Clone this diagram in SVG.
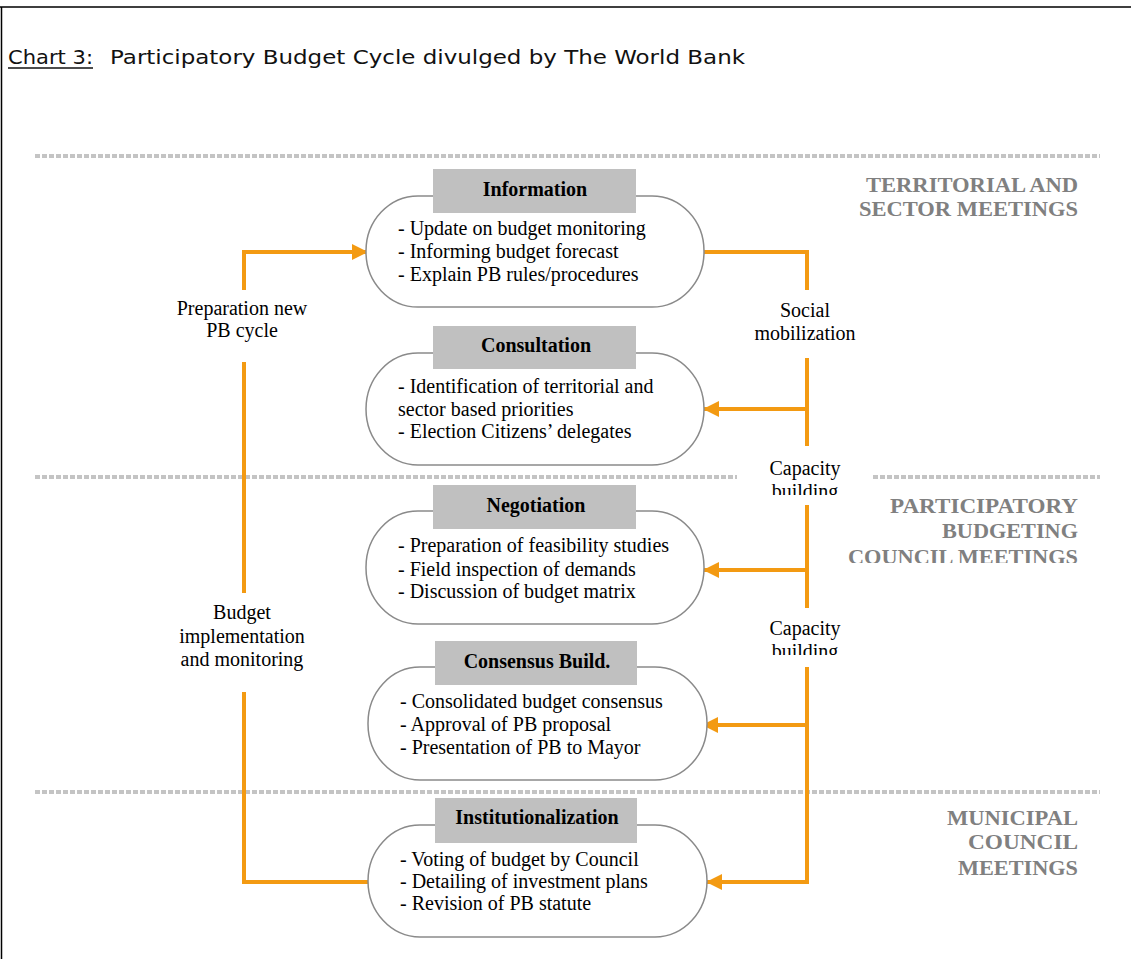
<svg xmlns="http://www.w3.org/2000/svg" width="1131" height="959" viewBox="0 0 1131 959">
  <style>
    .frame { fill: none; stroke: #000; stroke-width: 1.5; }
    .title { font-family: "DejaVu Sans", Verdana, sans-serif; font-size: 20px; fill: #111; }
    .dots { stroke: #c4c4c4; stroke-width: 4; stroke-dasharray: 5 2; fill: none; }
    .pill { fill: #fff; stroke: #8a8a8a; stroke-width: 1.5; }
    .head { fill: #c0c0c0; }
    .htxt { font-family: "Liberation Serif", "Times New Roman", serif; font-size: 20px; font-weight: bold; fill: #000; text-anchor: middle; }
    .btxt { font-family: "Liberation Serif", "Times New Roman", serif; font-size: 20px; fill: #000; }
    .lbl { font-family: "Liberation Serif", "Times New Roman", serif; font-size: 20px; fill: #000; text-anchor: middle; }
    .zone { font-family: "Liberation Serif", "Times New Roman", serif; font-size: 21px; font-weight: bold; fill: #808080; text-anchor: end; }
    .conn { fill: none; stroke: #f39a12; stroke-width: 4; }
  </style>
  <defs>
    <marker id="arr" viewBox="0 0 16 16" refX="15" refY="8" markerWidth="16" markerHeight="16" markerUnits="userSpaceOnUse" orient="auto">
      <path d="M0,0 L16,8 L0,16 z" fill="#f39a12"/>
    </marker>
    <clipPath id="clipCap1"><rect x="740" y="440" width="140" height="55"/></clipPath>
    <clipPath id="clipCap2"><rect x="740" y="600" width="140" height="55"/></clipPath>
    <clipPath id="clipZone"><rect x="820" y="480" width="300" height="83"/></clipPath>
  </defs>

  <rect width="1131" height="959" fill="#fff"/>
  <path class="frame" d="M0,7 H1131 M1.5,7 V959"/>

  <g id="title">
    <text class="title" x="8" y="64" textLength="85" lengthAdjust="spacingAndGlyphs">Chart 3:</text>
    <line x1="8" y1="68" x2="93" y2="68" stroke="#111" stroke-width="1.5"/>
    <text class="title" x="110" y="64" textLength="635" lengthAdjust="spacingAndGlyphs">Participatory Budget Cycle divulged by The World Bank</text>
  </g>

  <g id="separators">
    <line class="dots" x1="35" y1="156" x2="1100" y2="156"/>
    <line class="dots" x1="35" y1="477" x2="737" y2="477"/>
    <line class="dots" x1="873" y1="477" x2="1100" y2="477"/>
    <line class="dots" x1="35" y1="792" x2="1100" y2="792"/>
  </g>

  <g id="zone-territorial">
    <text class="zone" x="1078" y="192" textLength="212" lengthAdjust="spacingAndGlyphs">TERRITORIAL AND</text>
    <text class="zone" x="1078" y="216" textLength="219" lengthAdjust="spacingAndGlyphs">SECTOR MEETINGS</text>
  </g>
  <g id="zone-participatory">
    <text class="zone" x="1078" y="513" textLength="188" lengthAdjust="spacingAndGlyphs">PARTICIPATORY</text>
    <text class="zone" x="1078" y="538" textLength="136" lengthAdjust="spacingAndGlyphs">BUDGETING</text>
    <text class="zone" x="1078" y="564" textLength="230" lengthAdjust="spacingAndGlyphs" clip-path="url(#clipZone)">COUNCIL MEETINGS</text>
  </g>
  <g id="zone-municipal">
    <text class="zone" x="1078" y="825" textLength="131" lengthAdjust="spacingAndGlyphs">MUNICIPAL</text>
    <text class="zone" x="1078" y="849" textLength="110" lengthAdjust="spacingAndGlyphs">COUNCIL</text>
    <text class="zone" x="1078" y="875" textLength="120" lengthAdjust="spacingAndGlyphs">MEETINGS</text>
  </g>

  <g id="connectors">
    <path class="conn" d="M244,290 V252 H367" marker-end="url(#arr)"/>
    <path class="conn" d="M244,362 V593"/>
    <path class="conn" d="M244,692 V882 H370"/>
    <path class="conn" d="M704,252 H807 V290"/>
    <path class="conn" d="M807,358 V446"/>
    <path class="conn" d="M807,409 H704" marker-end="url(#arr)"/>
    <path class="conn" d="M807,505 V608"/>
    <path class="conn" d="M807,570 H704" marker-end="url(#arr)"/>
    <path class="conn" d="M807,667 V882 H707" marker-end="url(#arr)"/>
    <path class="conn" d="M807,725 H703" marker-end="url(#arr)"/>
  </g>

  <g id="connector-labels">
    <text class="lbl" x="242" y="315">Preparation new</text>
    <text class="lbl" x="242" y="337">PB cycle</text>
    <text class="lbl" x="242" y="619">Budget</text>
    <text class="lbl" x="242" y="643">implementation</text>
    <text class="lbl" x="242" y="666">and monitoring</text>
    <text class="lbl" x="805" y="317">Social</text>
    <text class="lbl" x="805" y="340">mobilization</text>
    <text class="lbl" x="805" y="475">Capacity</text>
    <text class="lbl" x="805" y="498" clip-path="url(#clipCap1)">building</text>
    <text class="lbl" x="805" y="635">Capacity</text>
    <text class="lbl" x="805" y="658" clip-path="url(#clipCap2)">building</text>
  </g>

  <g id="node-information">
    <rect class="pill" x="366" y="196" width="338" height="111" rx="52" ry="55"/>
    <rect class="head" x="433" y="169" width="203" height="44"/>
    <text class="htxt" x="535" y="196">Information</text>
    <text class="btxt" x="398" y="235">- Update on budget monitoring</text>
    <text class="btxt" x="398" y="258">- Informing budget forecast</text>
    <text class="btxt" x="398" y="281">- Explain PB rules/procedures</text>
  </g>

  <g id="node-consultation">
    <rect class="pill" x="366" y="353" width="338" height="112" rx="52" ry="56"/>
    <rect class="head" x="433" y="326" width="203" height="43"/>
    <text class="htxt" x="536" y="352">Consultation</text>
    <text class="btxt" x="398" y="393">- Identification of territorial and</text>
    <text class="btxt" x="398" y="416">sector based priorities</text>
    <text class="btxt" x="398" y="438">- Election Citizens’ delegates</text>
  </g>

  <g id="node-negotiation">
    <rect class="pill" x="366" y="511" width="338" height="113" rx="52" ry="56"/>
    <rect class="head" x="433" y="485" width="203" height="44"/>
    <text class="htxt" x="536" y="512">Negotiation</text>
    <text class="btxt" x="398" y="552">- Preparation of feasibility studies</text>
    <text class="btxt" x="398" y="576">- Field inspection of demands</text>
    <text class="btxt" x="398" y="598">- Discussion of budget matrix</text>
  </g>

  <g id="node-consensus">
    <rect class="pill" x="368" y="667" width="339" height="113" rx="52" ry="56"/>
    <rect class="head" x="435" y="641" width="202" height="44"/>
    <text class="htxt" x="537" y="668">Consensus Build.</text>
    <text class="btxt" x="400" y="708">- Consolidated budget consensus</text>
    <text class="btxt" x="400" y="731">- Approval of PB proposal</text>
    <text class="btxt" x="400" y="754">- Presentation of PB to Mayor</text>
  </g>

  <g id="node-institutionalization">
    <rect class="pill" x="368" y="825" width="339" height="112" rx="52" ry="56"/>
    <rect class="head" x="435" y="798" width="202" height="45"/>
    <text class="htxt" x="537" y="824">Institutionalization</text>
    <text class="btxt" x="400" y="866">- Voting of budget by Council</text>
    <text class="btxt" x="400" y="888">- Detailing of investment plans</text>
    <text class="btxt" x="400" y="910">- Revision of PB statute</text>
  </g>
</svg>
